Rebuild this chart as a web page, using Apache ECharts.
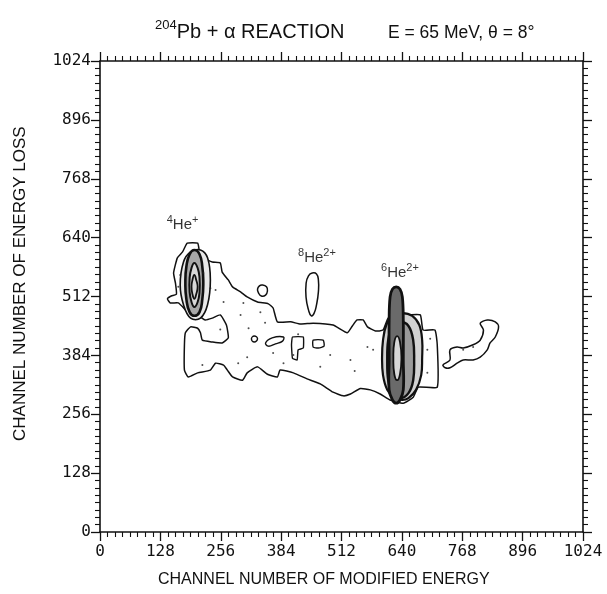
<!DOCTYPE html>
<html>
<head>
<meta charset="utf-8">
<script src="https://cdn.jsdelivr.net/npm/echarts@6/dist/echarts.min.js"></script>
<style>
  html, body { margin: 0; padding: 0; background: #fff; }
  #chart { width: 607px; height: 594px; }
</style>
</head>
<body>
<div id="chart"></div>
<script>
// axis range in channel numbers
const axisMin = 0;
const axisMax = 1024;
const tickStep = 128;

// contour outlines, [modified energy channel, energy loss channel]
const outerContour = [
  [185,628],[207,628],[211,609],[219,596],[238,587],[255,585],[259,565],[272,548],[281,533],[298,522],
  [312,511],[334,500],[357,496],[367,487],[376,457],[404,457],[425,452],[452,454],[494,450],[524,433],
  [535,448],[545,461],[558,461],[567,446],[584,437],[600,439],[611,465],[636,476],[652,472],[679,472],
  [685,439],[710,439],[715,407],[715,315],[675,315],[664,293],[643,280],[615,287],[594,300],[573,309],
  [552,312],[531,300],[516,296],[494,304],[467,322],[439,333],[410,346],[382,352],[376,337],[355,343],
  [334,359],[312,346],[302,330],[281,337],[270,352],[262,363],[245,367],[234,352],[207,346],[187,337],
  [179,352],[179,407],[181,433],[192,446],[207,443],[213,433],[217,417],[238,413],[259,411],[272,422],
  [268,450],[255,472],[238,465],[223,461],[209,470],[192,470],[181,483],[166,498],[149,498],[143,507],
  [151,513],[162,517],[160,541],[156,563],[164,596],[175,609]
];
const he4Level2 = [[177,587],[192,609],[213,613],[228,596],[234,548],[228,494],[213,465],[192,465],[177,494],[170,537]];
const he4Ring1 = [[200,613],[211,604],[217,576],[219,541],[217,507],[211,478],[200,470],[190,478],[183,507],[181,541],[183,576],[190,604]];
const he4Ring2 = [[200,585],[207,574],[211,552],[211,522],[207,500],[200,489],[194,500],[190,522],[190,552],[194,574]];
const he4Core = [[200,559],[204,548],[207,533],[204,517],[200,507],[196,517],[194,533],[196,548]];
const he6Tall = [[628,533],[636,528],[641,511],[643,461],[643,374],[643,309],[636,287],[628,280],[620,287],[613,309],[613,374],[613,461],[615,511],[620,528]];
const he6Wide1 = [[641,476],[662,470],[677,450],[683,417],[683,380],[681,341],[670,309],[654,291],[641,287],[624,291],[609,309],[600,341],[598,380],[600,417],[607,450],[620,470]];
const he6Wide2 = [[636,457],[654,448],[664,417],[666,374],[664,330],[654,302],[636,291],[620,302],[611,330],[609,374],[611,417],[620,448]];
const he6Core = [[630,426],[636,413],[639,378],[636,343],[630,330],[624,343],[622,378],[624,413]];
const he8Drop = [[450,563],[459,561],[463,548],[463,522],[459,494],[454,476],[448,470],[442,483],[437,509],[437,541],[442,557]];
const smallLoop = [[344,537],[353,533],[355,524],[351,515],[342,513],[336,520],[334,528],[338,535]];
const eyeLoop = [[351,411],[365,422],[389,424],[387,415],[372,409],[357,404]];
const tinyLoop = [[327,426],[334,420],[327,413],[321,420]];
const stepLoop = [[408,424],[431,424],[431,400],[420,396],[418,374],[408,378],[406,407]];
const sideLoop = [[452,417],[473,417],[475,404],[463,400],[452,402]];
const rightBlob = [
  [727,363],[742,374],[742,396],[757,402],[770,400],[791,407],[806,417],[813,439],[806,454],[821,461],
  [838,457],[845,446],[838,424],[827,411],[821,396],[806,380],[791,374],[770,374],[757,367],[742,357],[732,357]
];

// isolated counts scattered inside the lowest contour
const stippleDots = [
  [217,363],[298,472],[315,443],[340,478],[293,367],[312,380],[389,367],[367,389],[410,385],[467,359],
  [219,563],[234,530],[245,526],[170,559],[166,533],[262,500],[304,498],[579,396],[567,402],[770,396],
  [791,402],[694,396],[694,346],[488,385],[531,374],[255,440],[350,455],[420,430],[540,350],[700,420]
];

// particle labels
const labelText = ['{s|4}{b|He}{s|+}', '{s|8}{b|He}{s|2+}', '{s|6}{b|He}{s|2+}'];
const labelAt = [[175,670], [460,600], [636,567]];

const chart = echarts.init(document.getElementById('chart'));

function contourSeries(points, width, fill, smooth) {
  return {
    type: 'custom',
    silent: true,
    data: points,
    renderItem: (params, api) => {
      if (params.dataIndex !== 0) return null;
      return {
        type: 'polygon',
        shape: { points: points.map(p => api.coord(p)), smooth: smooth },
        style: { fill: fill || 'none', stroke: '#111', lineWidth: width }
      };
    }
  };
}

const tickFont = { fontFamily: 'DejaVu Sans Mono', fontSize: 16, color: '#111', formatter: v => String(v) };

function frameAxis(position, showLabels) {
  return {
    type: 'value',
    position: position,
    min: axisMin,
    max: axisMax,
    interval: tickStep,
    axisLine: { show: true, onZero: false, lineStyle: { color: '#111', width: 1.6 } },
    axisTick: { show: true, length: 9, lineStyle: { color: '#111', width: 1.3 } },
    minorTick: { show: true, splitNumber: 8, length: 5, lineStyle: { color: '#111', width: 1.1 } },
    splitLine: { show: false },
    axisLabel: Object.assign({ show: showLabels }, tickFont)
  };
}

const xBottom = frameAxis('bottom', true);
xBottom.axisLabel.margin = 12;
const yLeft = frameAxis('left', true);
yLeft.axisLabel.margin = 9;

const subSup = {
  b: { fontFamily: 'Liberation Sans', fontSize: 15, color: '#000', verticalAlign: 'bottom', lineHeight: 18 },
  s: { fontFamily: 'Liberation Sans', fontSize: 11, color: '#000', verticalAlign: 'top', lineHeight: 18 }
};

const option = {
  backgroundColor: '#fff',
  animation: false,
  title: [
    {
      text: '{s|204}{b|Pb + α REACTION}',
      left: 150,
      top: 14,
      textStyle: {
        fontWeight: 'normal',
        rich: {
          b: { fontFamily: 'Liberation Sans', fontSize: 20, fontWeight: 'normal', color: '#111', verticalAlign: 'bottom', lineHeight: 23 },
          s: { fontFamily: 'Liberation Sans', fontSize: 13, fontWeight: 'normal', color: '#111', verticalAlign: 'top', lineHeight: 23 }
        }
      }
    },
    {
      text: 'E = 65 MeV, θ = 8°',
      left: 383,
      top: 19,
      textStyle: { fontFamily: 'Liberation Sans', fontSize: 17.5, fontWeight: 'normal', color: '#111' }
    }
  ],
  grid: { left: 100, right: 24, top: 61, bottom: 62 },
  xAxis: [xBottom, frameAxis('top', false)],
  yAxis: [yLeft, frameAxis('right', false)],
  graphic: [
    {
      type: 'text', left: 158, top: 572,
      style: { text: 'CHANNEL NUMBER OF MODIFIED ENERGY', font: '16px "Liberation Sans"', fill: '#111' }
    },
    {
      type: 'text', x: 12, y: 441, rotation: Math.PI / 2,
      style: { text: 'CHANNEL NUMBER OF ENERGY LOSS', font: '17px "Liberation Sans"', fill: '#111' }
    }
  ],
  series: [
    contourSeries(outerContour, 1.5, null, 0.15),
    contourSeries(rightBlob, 1.5, null, 0.3),
    contourSeries(he8Drop, 1.5, null, 0.5),
    contourSeries(smallLoop, 1.5, null, 0.5),
    contourSeries(eyeLoop, 1.4, null, 0.4),
    contourSeries(tinyLoop, 1.4, null, 0.5),
    contourSeries(stepLoop, 1.4, null, 0.1),
    contourSeries(sideLoop, 1.4, null, 0.2),
    contourSeries(he4Level2, 1.6, '#e8e8e8', 0.4),
    contourSeries(he4Ring1, 2.6, '#a8a8a8', 0.5),
    contourSeries(he4Ring2, 2.0, '#d8d8d8', 0.5),
    contourSeries(he4Core, 1.8, null, 0.5),
    contourSeries(he6Wide1, 2.2, '#d2d2d2', 0.4),
    contourSeries(he6Wide2, 2.4, '#9a9a9a', 0.4),
    contourSeries(he6Tall, 2.8, '#6a6a6a', 0.4),
    contourSeries(he6Core, 1.8, '#d8d8d8', 0.5),
    {
      type: 'scatter',
      silent: true,
      data: stippleDots,
      symbolSize: 2,
      itemStyle: { color: '#222' }
    },
    {
      type: 'scatter',
      silent: true,
      symbolSize: 0,
      data: labelAt.map((p, i) => ({ value: p, label: { formatter: labelText[i] } })),
      label: { show: true, position: 'inside', rich: subSup }
    }
  ]
};

chart.setOption(option);
</script>
</body>
</html>
